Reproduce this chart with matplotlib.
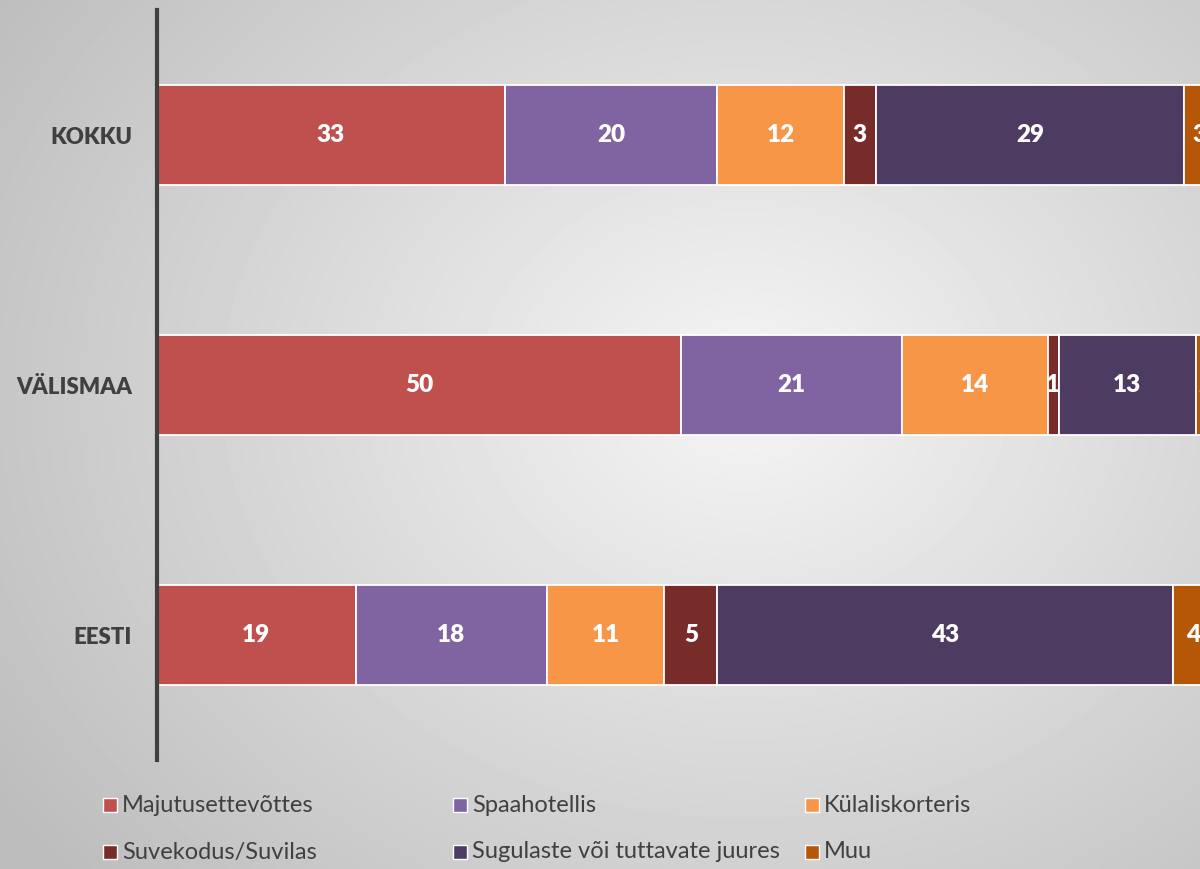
import matplotlib
matplotlib.use("Agg")
import matplotlib.pyplot as plt
import numpy as np
from matplotlib.patches import Rectangle

plt.rcParams["font.family"] = ["Lato", "DejaVu Sans"]

# Kategooriad alt üles (EESTI all, KOKKU üleval)
categories = ["EESTI", "VÄLISMAA", "KOKKU"]

series_names = [
    "Majutusettevõttes",
    "Spaahotellis",
    "Külaliskorteris",
    "Suvekodus/Suvilas",
    "Sugulaste või tuttavate juures",
    "Muu",
]
series_colors = ["#C0504D", "#8064A2", "#F79646", "#772C2A", "#4D3B62", "#B65708"]

# osakaalud (%) järjekorras EESTI, VÄLISMAA, KOKKU
majutus = [18.8, 49.6, 32.9]
spaa = [18.1, 20.9, 20.1]
kulalis = [11.1, 13.8, 12.0]
suvekodu = [5.0, 1.0, 3.0]
sugulased = [43.1, 13.0, 29.2]
muu = [3.9, 1.8, 2.8]

series_values = [majutus, spaa, kulalis, suvekodu, sugulased, muu]

W, H = 1200, 869
fig = plt.figure(figsize=(W / 100, H / 100), dpi=100)

# taust: heledam keskelt, tumedam servadest
bg = fig.add_axes([0, 0, 1, 1], zorder=-10)
yy, xx = np.mgrid[0:1:200j, 0:1:280j]
r = np.sqrt(((xx - 0.62) / 0.75) ** 2 + ((yy - 0.45) / 0.85) ** 2)
shade = np.clip(0.96 - 0.22 * r, 0.74, 0.97)
bg.imshow(shade, cmap="gray", vmin=0, vmax=1, aspect="auto",
          extent=[0, 1, 0, 1], origin="upper", interpolation="bilinear")
bg.set_axis_off()

ax = fig.add_axes([157 / W, 1 - 760 / H, 1057 / W, 750 / H])
ax.patch.set_alpha(0)

y = np.arange(len(categories))
left = np.zeros(len(categories))
for name, color, vals in zip(series_names, series_colors, series_values):
    vals = np.array(vals)
    bars = ax.barh(y, vals, left=left, height=0.4, color=color,
                   edgecolor="white", linewidth=1.3, label=name)
    for rect, v in zip(bars, vals):
        cx = rect.get_x() + rect.get_width() / 2
        ax.text(cx, rect.get_y() + rect.get_height() / 2, f"{v:.0f}",
                ha="center", va="center", color="white",
                fontsize=17.5, fontweight="heavy")
    left += vals

ax.set_xlim(0, 100)
ax.set_ylim(-0.5, 2.5)
ax.set_yticks(y)
ax.set_yticklabels(categories, fontsize=16, fontweight="heavy", color="#404040")
ax.tick_params(axis="y", length=0, pad=18)
ax.set_xticks([])
for side in ["top", "right", "bottom"]:
    ax.spines[side].set_visible(False)
ax.spines["left"].set_color("#404040")
ax.spines["left"].set_linewidth(3)

# legend käsitsi, kaks rida ja kolm veergu
col_x = [103, 453, 805]
row_y = [805, 852]
for i, (name, color) in enumerate(zip(series_names, series_colors)):
    px = col_x[i % 3]
    py = row_y[i // 3]
    fig.patches.append(Rectangle(((px) / W, 1 - (py + 7) / H), 14 / W, 14 / H,
                                 transform=fig.transFigure, facecolor=color,
                                 edgecolor="white", linewidth=1))
    fig.text((px + 19) / W, 1 - py / H, name, ha="left", va="center",
             fontsize=17, color="#404040")

fig.savefig("out.png", dpi=100)
